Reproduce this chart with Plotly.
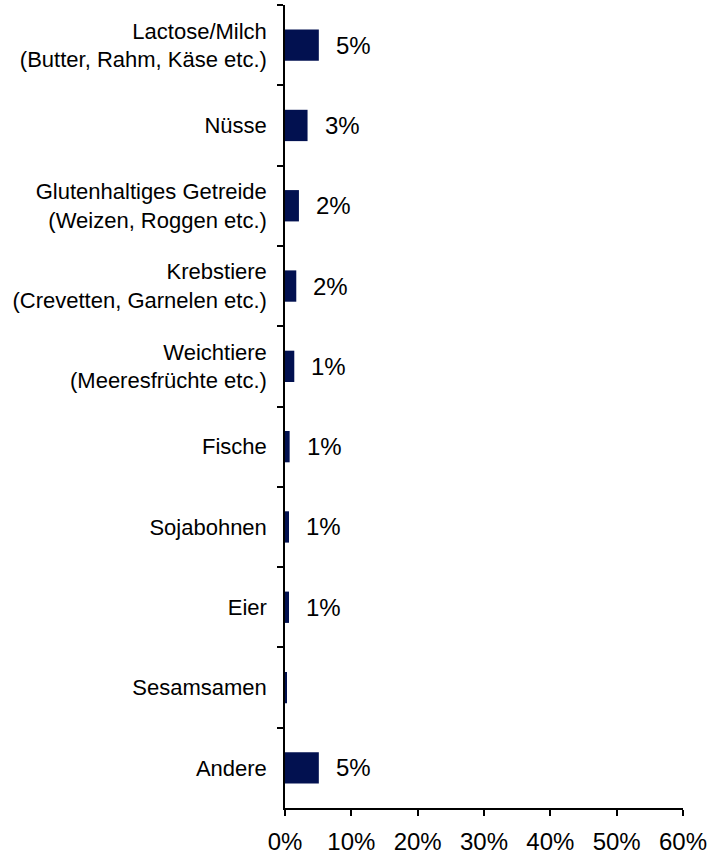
import plotly.graph_objects as go

# Allergen categories (top to bottom) and share of respondents in percent
categories = [
    "Lactose/Milch<br>(Butter, Rahm, Käse etc.)",
    "Nüsse",
    "Glutenhaltiges Getreide<br>(Weizen, Roggen etc.)",
    "Krebstiere<br>(Crevetten, Garnelen etc.)",
    "Weichtiere<br>(Meeresfrüchte etc.)",
    "Fische",
    "Sojabohnen",
    "Eier",
    "Sesamsamen",
    "Andere",
]
values = [5.1, 3.4, 2.1, 1.7, 1.4, 0.7, 0.6, 0.6, 0.2, 5.1]
x_ticks = [0, 10, 20, 30, 40, 50, 60]

BAR_COLOR = "#021150"
FONT = "Liberation Sans, Arial, sans-serif"

fig = go.Figure(
    go.Bar(
        x=values,
        y=categories,
        orientation="h",
        marker=dict(color=BAR_COLOR, line=dict(width=0)),
        width=0.39,
        hoverinfo="skip",
    )
)

# Value labels to the right of each bar (rounded to whole percent, hidden when 0)
for cat, v in zip(categories, values):
    r = round(v)
    if r <= 0:
        continue
    fig.add_annotation(
        x=v, y=cat, text=f"{r}%", showarrow=False,
        xanchor="left", yanchor="middle", xshift=15,
        font=dict(family=FONT, size=24, color="#000000"),
    )

fig.update_layout(
    width=723,
    height=854,
    margin=dict(l=285, r=40, t=5, b=46),
    paper_bgcolor="white",
    plot_bgcolor="white",
    showlegend=False,
    font=dict(family=FONT, color="#000000"),
)

fig.update_xaxes(
    range=[0, 60],
    tickvals=x_ticks,
    ticktext=[f"{t}%" for t in x_ticks],
    ticks="outside",
    ticklen=6,
    tickwidth=1.5,
    tickcolor="#000000",
    showline=True,
    linecolor="#000000",
    linewidth=1.5,
    showgrid=False,
    zeroline=False,
    automargin=False,
    ticklabelstandoff=5,
    tickfont=dict(family=FONT, size=24, color="#000000"),
)

fig.update_yaxes(
    categoryorder="array",
    categoryarray=categories,
    autorange="reversed",
    tickson="boundaries",
    ticks="outside",
    ticklen=6,
    tickwidth=1.5,
    tickcolor="#000000",
    showline=True,
    linecolor="#000000",
    linewidth=1.5,
    showgrid=False,
    zeroline=False,
    automargin=False,
    ticklabelstandoff=12,
    tickfont=dict(family=FONT, size=22, color="#000000"),
)

fig.write_html("out.html")
